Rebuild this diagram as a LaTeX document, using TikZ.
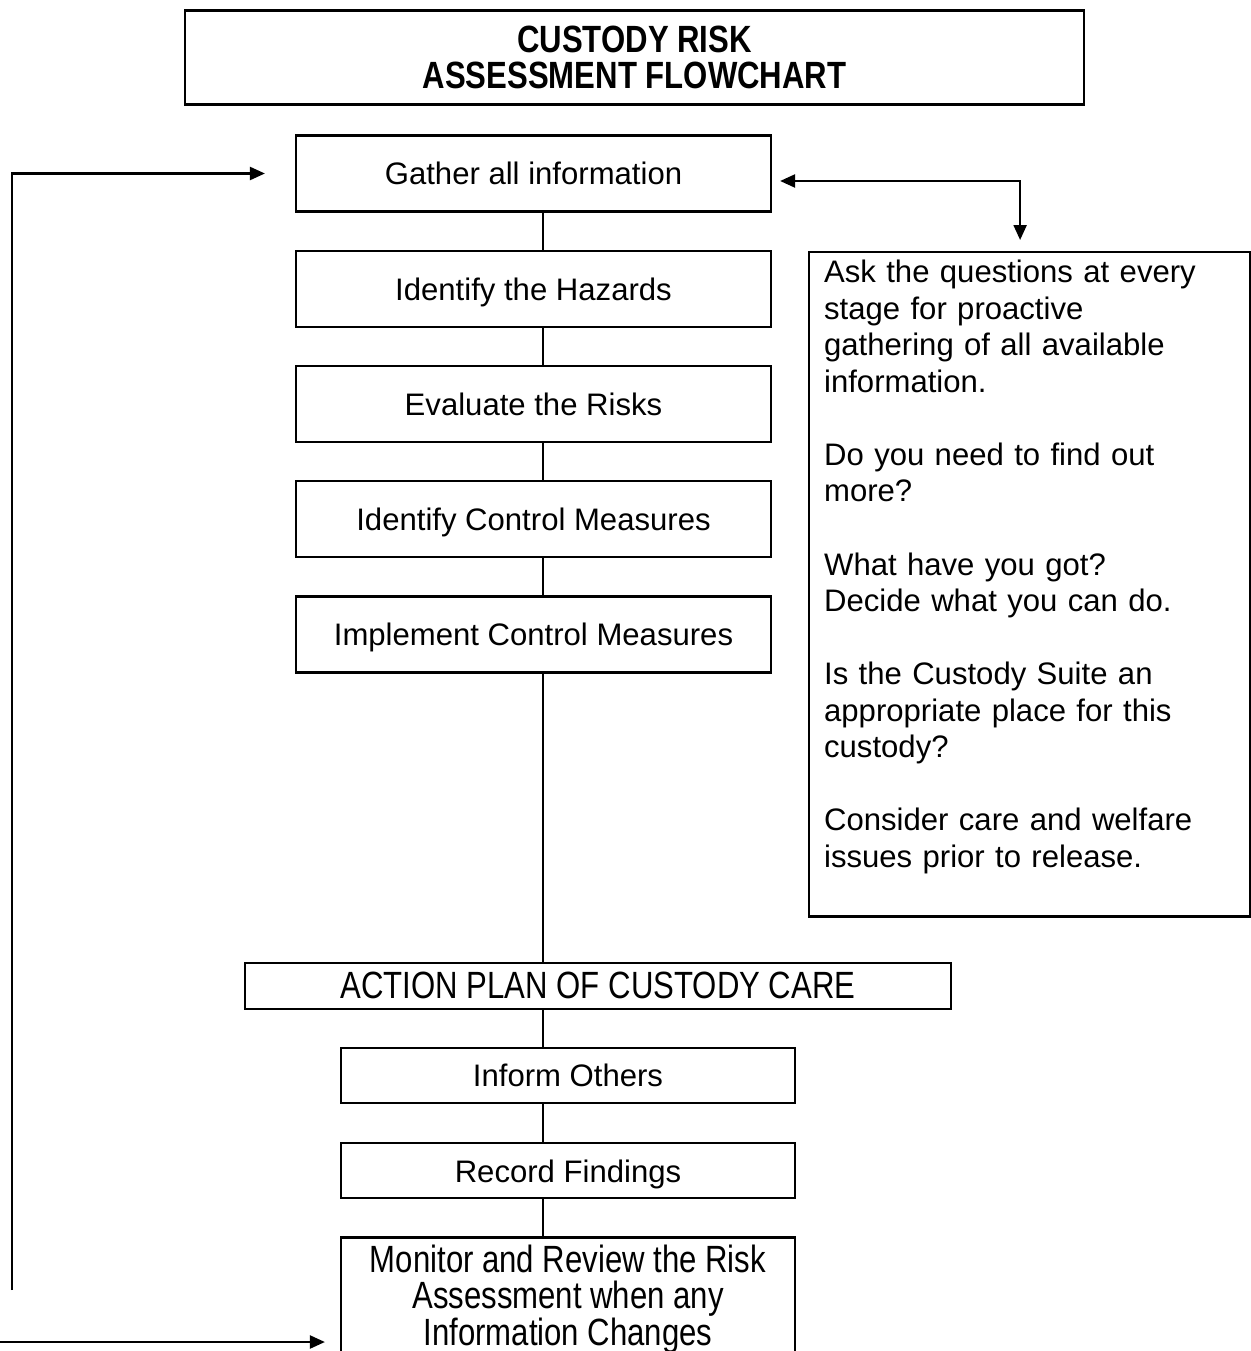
\documentclass[tikz,border=0pt]{standalone}
\usepackage{fontspec}
\setmainfont{Liberation Sans}
\newfontfamily\narrowfont[FakeStretch=0.82]{Liberation Sans}
\usetikzlibrary{positioning,arrows.meta}

\newcommand\bodysize{\fontsize{17.7}{20.8}\selectfont}
\newcommand\tallsize{\fontsize{21.6}{20.8}\selectfont}

\begin{document}
\begin{tikzpicture}[
  x=0.02cm, y=-0.02cm,
  font=\bodysize,
  box/.style={draw, line width=1.3pt, align=center, inner sep=0pt, minimum width=9.5cm, minimum height=1.52cm},
  stepline/.style={box, text height=13pt, text depth=0pt},
  widebox/.style={box, font=\narrowfont\tallsize},
  notebox/.style={draw, line width=1.3pt, align=left, text width=8.22cm, inner xsep=0.3cm, inner ysep=0.16cm},
  link/.style={line width=1.3pt},
  arrow/.style={-{Triangle[length=0.3cm,width=0.26cm]}, line width=1.3pt},
  both/.style={{Triangle[length=0.3cm,width=0.26cm]}-{Triangle[length=0.3cm,width=0.26cm]}, line width=1.3pt}
]
\useasboundingbox (0,0) rectangle (1250,1351);

% Heading
\node[box, font=\narrowfont\bfseries\tallsize, minimum width=17.98cm, minimum height=1.88cm] (title) at (634.5,57.5) {CUSTODY RISK\\ASSESSMENT FLOWCHART};

% Main column
\node[stepline] (gather) at (533.5,173.5) {Gather all information};
\node[stepline, below=0.74cm of gather] (hazards) {Identify the Hazards};
\node[stepline, below=0.74cm of hazards] (evaluate) {Evaluate the Risks};
\node[stepline, below=0.74cm of evaluate] (identify) {Identify Control Measures};
\node[stepline, below=0.74cm of identify] (implement) {Implement Control Measures};

\node[widebox, below=5.76cm of implement, xshift=1.29cm, minimum width=14.12cm, minimum height=0.92cm] (action) {ACTION PLAN OF CUSTODY CARE};
\node[stepline, below=0.74cm of action, xshift=-0.6cm, minimum width=9.08cm, minimum height=1.1cm] (inform) {Inform Others};
\node[stepline, below=0.76cm of inform, minimum width=9.08cm, minimum height=1.1cm] (record) {Record Findings};
\node[widebox, below=0.74cm of record, minimum width=9.08cm, minimum height=2.46cm] (monitor) {Monitor and Review the Risk\\Assessment when any\\Information Changes};

% Questions
\node[notebox, anchor=north west] (notes) at (808,251) {Ask the questions at every\\stage for proactive\\gathering of all available\\information.\\[20.8pt]Do you need to find out\\more?\\[20.8pt]What have you got?\\Decide what you can do.\\[20.8pt]Is the Custody Suite an\\appropriate place for this\\custody?\\[20.8pt]Consider care and welfare\\issues prior to release.\rule[-0.82cm]{0pt}{0.82cm}};

% Connectors
\coordinate (spine) at (543,0);
\foreach \a/\b in {gather/hazards, hazards/evaluate, evaluate/identify, identify/implement, implement/action, action/inform, inform/record, record/monitor}
  \draw[link] (\a.south -| spine) -- (\b.north -| spine);

% Review loop
\coordinate (loopstart) at (12,1290);
\coordinate (gathertip) at ([xshift=-0.6cm]gather.west);
\draw[arrow] (loopstart) |- (gathertip);

\coordinate (loopend) at (0,1342);
\coordinate (monitortip) at ([xshift=-0.3cm]monitor.west);
\draw[arrow] (loopend) -- (loopend -| monitortip);

% Questions link
\coordinate (asktip) at ([xshift=0.16cm,yshift=-0.15cm]gather.east);
\coordinate (notestip) at ([xshift=-0.19cm,yshift=0.22cm]notes.north);
\draw[both] (asktip) -| (notestip);

\end{tikzpicture}
\end{document}
